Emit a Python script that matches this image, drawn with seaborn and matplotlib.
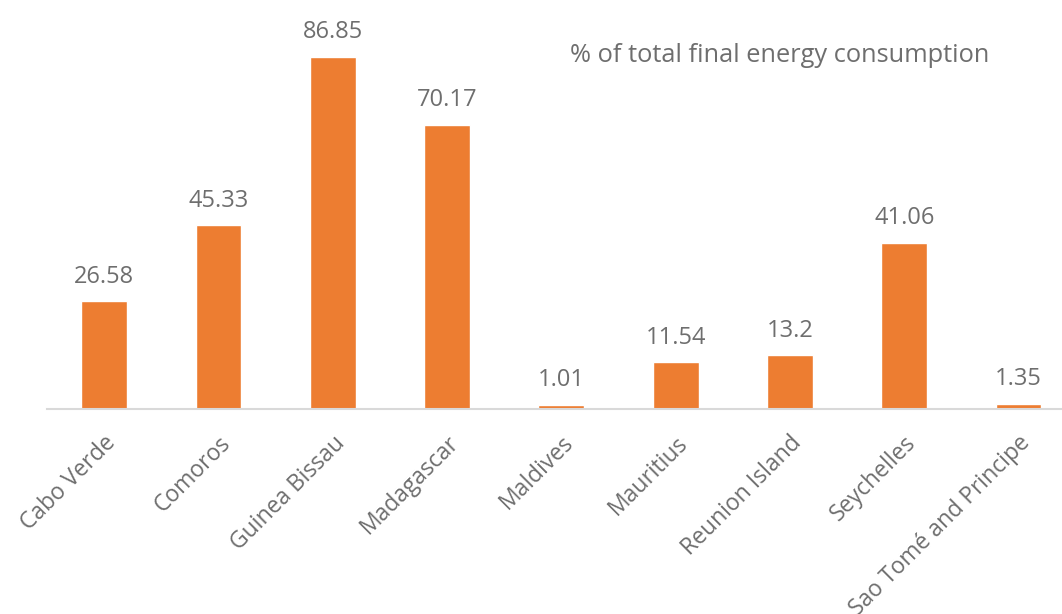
import matplotlib
matplotlib.use("Agg")
import matplotlib.pyplot as plt
import seaborn as sns
import pandas as pd

countries = ["Cabo Verde", "Comoros", "Guinea Bissau", "Madagascar", "Maldives",
             "Mauritius", "Reunion Island", "Seychelles", "Sao Tomé and Principe"]
values = [26.58, 45.33, 86.85, 70.17, 1.01, 11.54, 13.2, 41.06, 1.35]
value_labels = ["26.58", "45.33", "86.85", "70.17", "1.01", "11.54", "13.2", "41.06", "1.35"]
title = "% of total final energy consumption"

sns.set_style("white")
plt.rcParams['font.family'] = ['Open Sans', 'DejaVu Sans']
TXT = "#6e6e6e"
ORANGE = "#ED7D31"

df = pd.DataFrame({"country": countries, "value": values})

fig = plt.figure(figsize=(10.62, 6.14), dpi=100)
ax = fig.add_axes([47/1062, 205/614, 1015/1062, 409/614])
sns.barplot(data=df, x="country", y="value", color=ORANGE, saturation=1, width=0.4, ax=ax)

ax.set_xlim(-0.5, 8.38)
ax.set_ylim(0, 100.9)
ax.set_xlabel("")
ax.set_ylabel("")
ax.set_yticks([])
for s in ["top", "right", "left"]:
    ax.spines[s].set_visible(False)
ax.spines["bottom"].set_color("#d9d9d9")
ax.spines["bottom"].set_linewidth(1.5)
ax.tick_params(axis="x", length=0, pad=16)
ax.set_xticks(range(len(countries)))
ax.set_xticklabels(countries, rotation=45, ha="right", rotation_mode="anchor",
                   fontsize=16.5, color=TXT)

for i, (v, lab) in enumerate(zip(values, value_labels)):
    ax.annotate(lab, (i, v), xytext=(0, 9), textcoords="offset points",
                ha="center", va="bottom", fontsize=17, color=TXT)

fig.text(570/1062, 1 - 55/614, title, ha="left", va="center", fontsize=18.3, color=TXT)

fig.savefig("out.png", dpi=100)
